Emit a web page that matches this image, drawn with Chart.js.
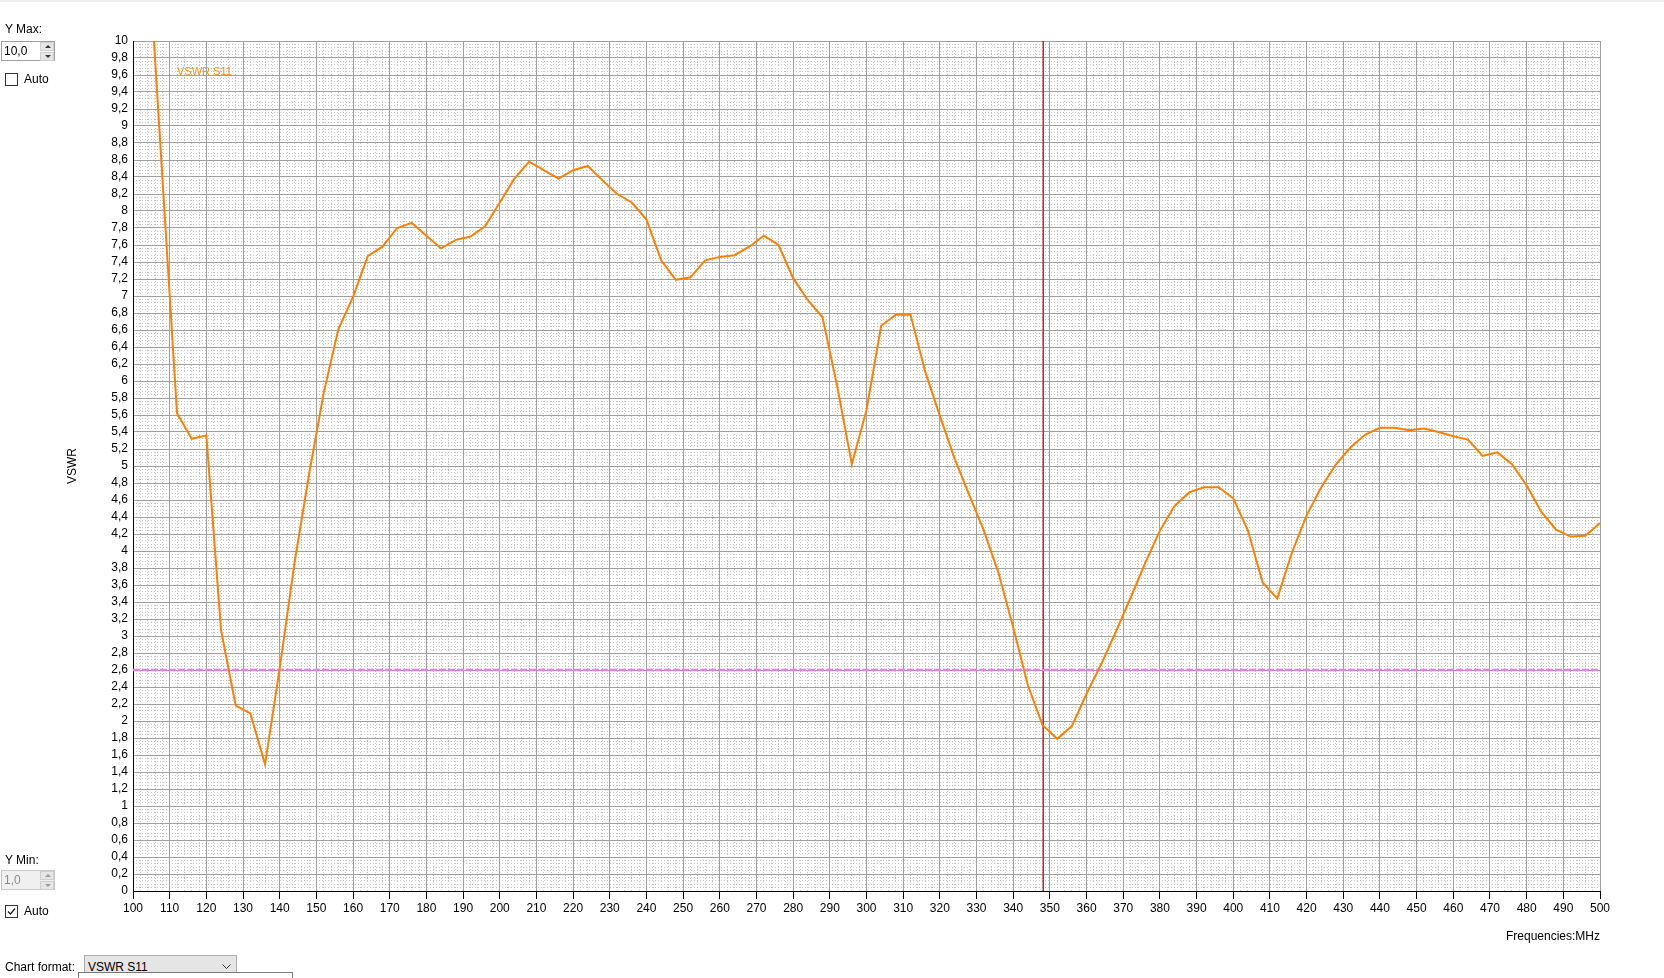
<!DOCTYPE html>
<html>
<head>
<meta charset="utf-8">
<script src="https://cdn.jsdelivr.net/npm/chart.js@4.4.1/dist/chart.umd.min.js"></script>
<style>
  body { margin: 0; background: #fff; font-family: "Liberation Sans", Arial, sans-serif; font-size: 12px; color: #000; }
  #wrap { position: relative; width: 1664px; height: 978px; overflow: hidden; }
  #wrap canvas { position: absolute; left: 0; top: 0; }
  .topbar { position: absolute; left: 0; top: 0; width: 1664px; height: 2px; background: #f0f0f0; }
  .lbl { position: absolute; left: 5px; line-height: 14px; white-space: nowrap; }
  .spin { position: absolute; left: 1px; width: 52px; height: 18px; border: 1px solid #a0a0a0; background: #fff; }
  .spin span { position: absolute; left: 2px; top: 2px; line-height: 14px; }
  .spin.off { background: #f0f0f0; border-color: #c8c8c8; }
  .spin.off span { color: #8a8a8a; }
  .btns { position: absolute; right: 0; top: 0; width: 14px; height: 18px; }
  .btns div { position: relative; margin: 0 0 1px 0; background: #e6e6e6; border: 1px solid #cfcfcf; box-sizing: border-box; height: 9px; }
  .up::after, .dn::after { content: ""; position: absolute; left: 4px; width: 0; height: 0; border-left: 3px solid transparent; border-right: 3px solid transparent; }
  .up::after { top: 2px; border-bottom: 3px solid #333; }
  .dn::after { top: 2px; border-top: 3px solid #333; }
  .off .up::after { border-bottom-color: #999; }
  .off .dn::after { border-top-color: #999; }
  .chk { position: absolute; left: 5px; width: 11px; height: 11px; border: 1px solid #333; background: #fff; }
  .chk svg { position: absolute; left: 0; top: 0; }
  .combo { position: absolute; left: 84px; top: 955px; width: 151px; height: 22px; background: #e5e5e5; border: 1px solid #adadad; }
  .combo span { position: absolute; left: 3px; top: 4px; line-height: 14px; }
  .combo svg { position: absolute; right: 5px; top: 8px; }
  .combo2 { position: absolute; left: 78px; top: 972px; width: 213px; height: 20px; background: #fff; border: 1px solid #7a7a7a; }
</style>
</head>
<body>
<div id="wrap">
  <canvas id="vswrChart"></canvas>
  <div class="topbar"></div>

  <div class="lbl" style="top:22px">Y Max:</div>
  <div class="spin" style="top:41px"><span>10,0</span>
    <div class="btns"><div class="up"></div><div class="dn"></div></div>
  </div>
  <div class="chk" style="top:73px"></div>
  <div class="lbl" style="left:24px; top:72px">Auto</div>

  <div class="lbl" style="top:853px">Y Min:</div>
  <div class="spin off" style="top:870px"><span>1,0</span>
    <div class="btns"><div class="up"></div><div class="dn"></div></div>
  </div>
  <div class="chk" style="top:905px"><svg width="11" height="11"><polyline points="2,5.5 4.5,8 9,2.5" fill="none" stroke="#222" stroke-width="1.3"/></svg></div>
  <div class="lbl" style="left:24px; top:904px">Auto</div>

  <div class="lbl" style="top:960px">Chart format:</div>
  <div class="combo"><span>VSWR S11</span>
    <svg width="9" height="6"><polyline points="0.5,0.5 4.5,4.5 8.5,0.5" fill="none" stroke="#333" stroke-width="1"/></svg>
  </div>
  <div class="combo2"></div>
</div>

<script>
// frequências (MHz) dos pontos medidos
const freqs = [
  100, 104, 108, 112, 116, 120, 124, 128, 132, 136,
  140, 144, 148, 152, 156, 160, 164, 168, 172, 176,
  180, 184, 188, 192, 196, 200, 204, 208, 212, 216,
  220, 224, 228, 232, 236, 240, 244, 248, 252, 256,
  260, 264, 268, 272, 276, 280, 284, 288, 292, 296,
  300, 304, 308, 312, 316, 320, 324, 328, 332, 336,
  340, 344, 348, 352, 356, 360, 364, 368, 372, 376,
  380, 384, 388, 392, 396, 400, 404, 408, 412, 416,
  420, 424, 428, 432, 436, 440, 444, 448, 452, 456,
  460, 464, 468, 472, 476, 480, 484, 488, 492, 496,
  500
];

// VSWR S11
const vswrS11 = [
  14.0, 11.2, 8.4, 5.62, 5.32, 5.36, 3.07, 2.18, 2.09, 1.49,
  2.62, 3.85, 4.9, 5.86, 6.61, 6.99, 7.47, 7.58, 7.8, 7.86,
  7.71, 7.56, 7.66, 7.7, 7.82, 8.1, 8.38, 8.58, 8.48, 8.38,
  8.48, 8.53, 8.36, 8.2, 8.1, 7.9, 7.42, 7.19, 7.22, 7.42,
  7.46, 7.48, 7.58, 7.71, 7.6, 7.21, 6.95, 6.75, 5.94, 5.02,
  5.66, 6.65, 6.78, 6.78, 6.11, 5.59, 5.09, 4.66, 4.24, 3.74,
  3.1, 2.42, 1.95, 1.79, 1.94, 2.32, 2.67, 3.05, 3.45, 3.86,
  4.24, 4.53, 4.69, 4.75, 4.75, 4.62, 4.24, 3.63, 3.44, 3.98,
  4.42, 4.75, 5.02, 5.22, 5.37, 5.45, 5.45, 5.42, 5.44, 5.4,
  5.35, 5.31, 5.12, 5.16, 5.02, 4.77, 4.46, 4.25, 4.17, 4.18,
  4.33
];

const seriesName = "VSWR S11";
const refLevel = [2.6, 2.6];      // linha de referência (tracejada)
const refFreqs = [100, 500];
const markerFreq = [348.2, 348.2]; // marcador vertical
const markerLevel = [0, 10];

const xRange = [100, 500];
const yRange = [0, 10];

// escreve o nome da série dentro da área do gráfico
const seriesLabel = {
  id: "seriesLabel",
  afterDraw(chart) {
    const { ctx, chartArea } = chart;
    ctx.save();
    ctx.font = '11px "Liberation Sans", Arial, sans-serif';
    ctx.fillStyle = "#ff8c1a";
    ctx.textBaseline = "middle";
    ctx.fillText(seriesName, chartArea.left + 44, chartArea.top + 31);
    ctx.restore();
  }
};

Chart.defaults.font.family = '"Liberation Sans", Arial, sans-serif';
Chart.defaults.font.size = 12;
Chart.defaults.color = "#000";

const config = {
  type: "line",
  data: {
    datasets: [
      {
        label: seriesName,
        data: freqs.map((f, i) => ({ x: f, y: vswrS11[i] })),
        borderColor: "#ff8000",
        borderWidth: 2,
        pointRadius: 0,
        tension: 0,
        clip: 0
      },
      {
        label: "ref",
        data: refFreqs.map((f, i) => ({ x: f, y: refLevel[i] })),
        borderColor: "#e67ee6",
        borderWidth: 2.6,
        borderDash: [7, 2],
        pointRadius: 0
      },
      {
        label: "marker",
        data: markerFreq.map((f, i) => ({ x: f, y: markerLevel[i] })),
        borderColor: "#c0282d",
        borderWidth: 1.5,
        pointRadius: 0
      }
    ]
  },
  options: {
    responsive: false,
    animation: false,
    layout: { padding: { top: 41, right: 64, bottom: 0, left: 0 } },
    plugins: { legend: { display: false }, tooltip: { enabled: false } },
    scales: {
      x: {
        type: "linear",
        position: "bottom",
        min: xRange[0],
        max: xRange[1],
        ticks: { stepSize: 10, autoSkip: false, maxRotation: 0, padding: 2 },
        grid: { color: "#a0a0a0", tickColor: "#000", tickLength: 8 },
        border: { color: "#000" },
        title: { display: true, text: "Frequencies:MHz", align: "end", padding: { top: 0, bottom: 34 } },
        afterFit(scale) { scale.height = 87; }
      },
      y: {
        type: "linear",
        position: "left",
        min: yRange[0],
        max: yRange[1],
        ticks: {
          stepSize: 0.2,
          autoSkip: false,
          padding: 5,
          callback: (v) => String(Math.round(v * 10) / 10).replace(".", ",")
        },
        grid: { color: "#a0a0a0", drawTicks: false },
        border: { color: "#000" },
        title: { display: true, text: "VSWR", padding: { top: 65, bottom: 0 } },
        afterFit(scale) { scale.width = 133; }
      },
      // grade secundária pontilhada
      xMinor: {
        type: "linear",
        position: "bottom",
        min: xRange[0],
        max: xRange[1],
        ticks: { display: false, stepSize: 2 },
        grid: { color: "#c4c4c4", drawTicks: false, z: -2 },
        border: { display: false, dash: [1, 2] },
        afterFit(scale) { scale.height = 0; }
      },
      yMinor: {
        type: "linear",
        position: "left",
        min: yRange[0],
        max: yRange[1],
        ticks: { display: false, stepSize: 0.04 },
        grid: { color: "#c4c4c4", drawTicks: false, z: -2 },
        border: { display: false, dash: [1, 2] },
        afterFit(scale) { scale.width = 0; }
      }
    }
  },
  plugins: [seriesLabel]
};

const canvas = document.getElementById("vswrChart");
canvas.width = 1664;
canvas.height = 978;
const myChart = new Chart(canvas, config);
</script>
</body>
</html>
